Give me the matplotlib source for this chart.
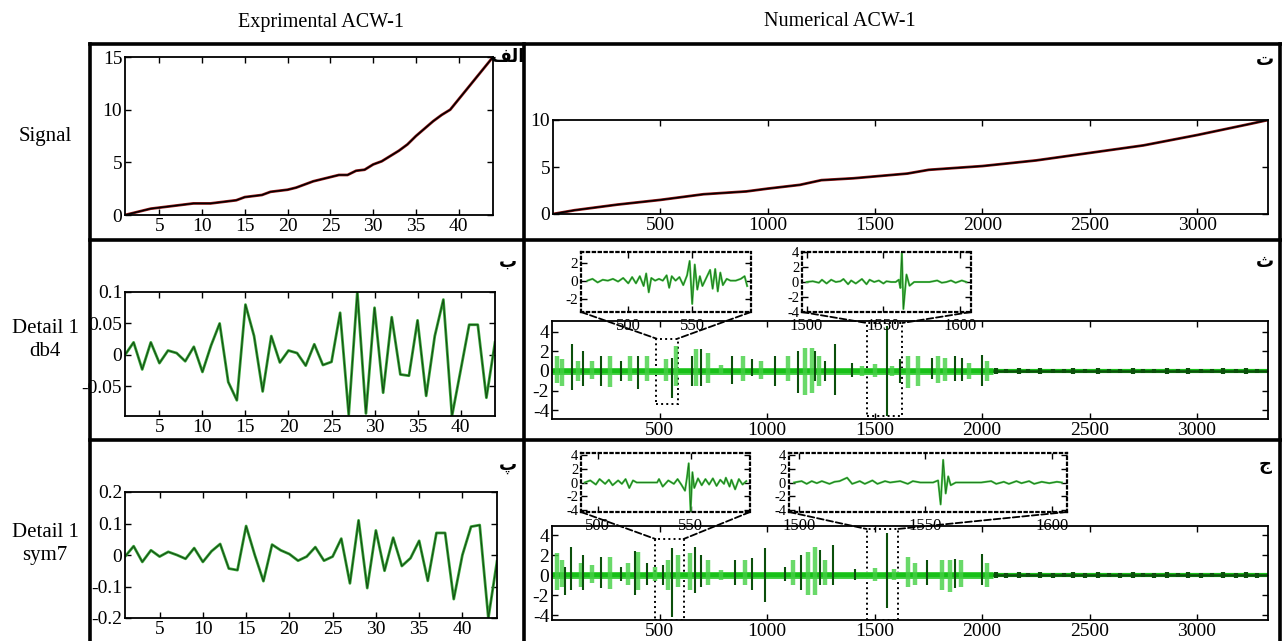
import numpy as np
import matplotlib
matplotlib.use("Agg")
import matplotlib.pyplot as plt
from matplotlib.lines import Line2D
from matplotlib.patches import Rectangle, ConnectionPatch

plt.rcParams["font.family"] = ["Liberation Serif", "DejaVu Sans"]
plt.rcParams["axes.unicode_minus"] = False

W, H = 1282, 641

# experimental (44 samples)
exp_x = np.arange(1, 45)
exp_signal = [0.0, 0.2, 0.4, 0.6, 0.7, 0.8, 0.9, 1.0, 1.1, 1.1, 1.1, 1.2, 1.3, 1.4,
              1.7, 1.8, 1.9, 2.2, 2.3, 2.4, 2.6, 2.9, 3.2, 3.4, 3.6, 3.8, 3.8, 4.2,
              4.3, 4.8, 5.1, 5.6, 6.1, 6.7, 7.5, 8.2, 8.9, 9.5, 10.0, 11.0, 12.0,
              13.0, 14.0, 15.0]
exp_db4 = [0.0, 0.02, -0.023, 0.02, -0.013, 0.007, 0.003, -0.01, 0.013, -0.027,
           0.015, 0.05, -0.043, -0.072, 0.08, 0.03, -0.058, 0.03, -0.012, 0.007,
           0.003, -0.017, 0.017, -0.016, -0.011, 0.067, -0.095, 0.1, -0.093, 0.075,
           -0.06, 0.06, -0.031, -0.033, 0.055, -0.065, 0.03, 0.088, -0.097, -0.025,
           0.048, 0.048, -0.068, 0.02]
exp_sym7 = [-0.005, 0.028, -0.022, 0.015, -0.005, 0.01, 0.0, -0.012, 0.022, -0.022,
            0.012, 0.035, -0.043, -0.048, 0.092, 0.0, -0.083, 0.033, 0.015, 0.003,
            -0.018, -0.005, 0.025, -0.018, -0.005, 0.052, -0.09, 0.11, -0.105, 0.078,
            -0.05, 0.055, -0.035, -0.01, 0.045, -0.082, 0.07, 0.07, -0.14, 0.0,
            0.09, 0.095, -0.2, -0.02]

# numerical signal
num_x = [0, 100, 200, 300, 500, 700, 900, 1000, 1150, 1250, 1400, 1500, 1650, 1750,
         2000, 2250, 2500, 2750, 3000, 3250, 3330]
num_y = [0.0, 0.4, 0.7, 1.0, 1.5, 2.1, 2.4, 2.7, 3.1, 3.6, 3.8, 4.0, 4.3, 4.7,
         5.1, 5.7, 6.5, 7.3, 8.4, 9.6, 10.0]

# detail bursts: (position, top, bottom)
db4_dark = [(91, 2.8, -1.9), (145, 2.0, -1.5), (230, 1.5, -1.5), (323, 1.0, -1.0),
            (401, 1.5, -1.8), (556, 1.3, -2.8), (649, 1.5, -1.5), (695, 2.2, -1.5),
            (835, 1.5, -1.3), (928, 1.2, -0.5), (1036, 1.5, -1.5), (1145, 2.0, -2.2),
            (1222, 2.0, -1.0), (1269, 1.0, -1.0), (1315, 2.8, -2.5), (1393, 0.8, -0.6),
            (1556, 4.6, -4.6), (1618, 1.2, -1.2), (1765, 1.3, -0.8), (1874, 1.5, -1.0),
            (1905, 1.3, -1.0), (1998, 1.6, -1.5)]
db4_light = [(25, 1.5, -1.2), (45, 1.2, -1.5), (120, 1.0, -1.0), (185, 1.0, -0.8),
             (269, 1.5, -1.6), (362, 1.5, -1.0), (440, 1.5, -1.0), (532, 1.2, -1.0),
             (579, 2.5, -1.5), (672, 2.2, -1.5), (726, 1.8, -1.2), (788, 0.6, -0.4),
             (889, 1.5, -1.0), (974, 1.0, -0.8), (1098, 1.5, -1.0), (1176, 2.3, -2.5),
             (1207, 2.3, -2.2), (1240, 1.5, -1.5), (1440, 0.5, -0.5), (1501, 0.7, -0.6),
             (1580, 0.5, -0.5), (1657, 1.5, -1.7), (1703, 1.5, -1.5), (1796, 1.5, -1.2),
             (1830, 1.3, -1.0), (1940, 0.8, -0.8), (2021, 1.0, -1.0)]
sym7_dark = [(60, 0.8, -2.0), (90, 2.8, -1.5), (145, 2.0, -1.5), (230, 1.8, -1.3),
             (323, 0.8, -0.6), (385, 2.4, -2.0), (440, 1.2, -1.0), (517, 1.0, -1.0),
             (556, 2.7, -4.2), (664, 2.8, -1.8), (695, 2.0, -1.2), (850, 1.5, -1.0),
             (928, 1.7, -1.5), (990, 2.7, -2.7), (1083, 0.8, -0.6), (1160, 2.0, -1.5),
             (1246, 2.5, -1.0), (1308, 3.0, -1.0), (1408, 0.6, -0.5), (1556, 4.2, -3.3),
             (1742, 1.5, -1.0), (1874, 1.6, -1.3), (1998, 2.1, -1.0)]
sym7_light = [(25, 2.2, -1.5), (45, 1.5, -1.2), (137, 1.2, -1.2), (185, 1.0, -0.8),
              (269, 1.8, -1.4), (354, 1.2, -1.0), (401, 2.3, -1.5), (480, 0.8, -0.6),
              (540, 1.5, -1.5), (587, 2.0, -1.2), (641, 2.2, -1.5), (726, 1.5, -1.0),
              (788, 0.5, -0.5), (897, 1.5, -1.0), (1122, 1.5, -1.0), (1191, 2.3, -2.0),
              (1222, 2.8, -2.0), (1270, 1.5, -1.0), (1501, 0.7, -0.6), (1590, 0.6, -0.5),
              (1657, 1.8, -1.2), (1690, 1.2, -1.0), (1812, 1.5, -1.5), (1850, 1.5, -1.7),
              (1900, 1.5, -1.2), (2021, 1.2, -1.2)]
tail_x = [2065, 2110, 2170, 2215, 2270, 2330, 2380, 2425, 2480, 2540, 2590, 2640,
          2700, 2750, 2800, 2860, 2910, 2960, 3020, 3070, 3120, 3180, 3230, 3280]
tail_amp = [0.3, 0.25, 0.3, 0.2, 0.3, 0.25, 0.2, 0.3, 0.25, 0.3, 0.2, 0.25,
            0.3, 0.2, 0.25, 0.3, 0.2, 0.3, 0.25, 0.2, 0.3, 0.25, 0.3, 0.25]
active_end = 2050

# zoomed insets
db4_zoom1_x = [468, 472, 476, 480, 484, 488, 492, 496, 500, 503, 506, 509, 512, 514, 516,
               518, 521, 524, 527, 530, 532, 534, 537, 540, 543, 546, 548, 550, 552, 554,
               556, 558, 561, 564, 566, 568, 570, 572, 574, 577, 580, 584, 588, 591, 593]
db4_zoom1_y = [0, 0.2, -0.2, 0.1, 0, 0.2, -0.1, 0.3, -0.3, 0.4, -0.3, 0.5, -0.6, 0.8, -1.3,
               0.3, 0, 0.2, 0, 0.6, -0.8, 0.5, 0, 0.4, -0.5, 0.6, 2.2, -2.6, 1.8, -1.0,
               0.5, -0.6, 0.3, 1.2, -0.9, 1.3, -1.2, 0.9, -0.5, 0.2, 0, 0, 0.2, 0.5, -0.6]
db4_zoom2_x = [1500, 1504, 1508, 1510, 1513, 1516, 1519, 1522, 1524, 1527, 1529, 1532, 1536,
               1539, 1541, 1544, 1547, 1550, 1552, 1555, 1558, 1560, 1561, 1562, 1563, 1565,
               1567, 1570, 1575, 1580, 1585, 1588, 1591, 1594, 1597, 1601, 1604]
db4_zoom2_y = [0, 0.1, -0.1, 0.3, -0.2, 0.3, 0, 0.1, 0.4, -0.3, 0.2, -0.2, 0.4,
               -0.3, 0.3, 0, 0.2, -0.2, 0.1, 0, 0, 0.3, -0.8, 4.0, -3.6, 1.0,
               -0.5, 0, 0, 0, 0.2, -0.1, 0, 0.2, -0.1, 0.2, 0]
sym7_zoom1_x = [493, 496, 499, 501, 504, 506, 508, 511, 513, 515, 517, 519, 521, 524, 528,
                532, 533, 535, 538, 541, 543, 545, 547, 548, 549, 550, 551, 552, 554, 556,
                558, 560, 562, 564, 566, 568, 569, 571, 572, 574, 576, 578, 580]
sym7_zoom1_y = [0, 0.3, -0.3, 0.5, -0.2, 0.4, -0.4, 0.3, -0.2, 0.5, -0.8, 0.3, 0, 0, 0,
                0, 0.5, -0.6, 0.3, -0.2, 0.5, -0.3, -1.2, 0.6, 2.8, -4.2, 1.5, -0.8, 0.6, -0.4,
                0.5, -0.3, 0.6, -0.5, 0.4, -0.2, 0.7, -0.6, 0.4, -1.0, 0.5, -0.3, 0.2]
sym7_zoom2_x = [1498, 1501, 1503, 1505, 1507, 1509, 1512, 1514, 1516, 1519, 1521, 1524, 1526,
                1529, 1531, 1534, 1536, 1540, 1543, 1545, 1548, 1550, 1553, 1555, 1556, 1557,
                1558, 1559, 1560, 1562, 1566, 1572, 1576, 1578, 1581, 1583, 1586, 1588, 1591,
                1593, 1596, 1599, 1602, 1604]
sym7_zoom2_y = [0, 0.2, -0.2, 0.2, -0.1, 0.2, -0.2, 0.1, 0.2, 0.7, -0.2, 0.2, -0.2,
                0.3, -0.2, 0.2, 0, 0.2, -0.2, 0.2, 0, 0, 0, 0.3, -3.2, 3.3,
                -1.6, 0.9, -0.4, 0, 0, 0, 0.2, -0.2, 0.1, -0.2, 0.2, -0.1, 0.2,
                -0.2, 0.1, -0.1, 0.1, 0]

DARK = "#0b4f0b"
LIGHT = "#44d044"
BRIGHT = "#18c018"


def px_axes(fig, l, t, r, b):
    return fig.add_axes([l / W, 1 - b / H, (r - l) / W, (b - t) / H])


def matlab_style(ax, size, dotted=False, xsize=None):
    ax.tick_params(direction="in", top=True, right=True, length=4, width=1,
                   labelsize=size, pad=2)
    if xsize is not None:
        ax.tick_params(axis="x", labelsize=xsize, pad=4)
    for s in ax.spines.values():
        s.set_linewidth(1.6 if dotted else 1.3)
        if dotted:
            s.set_linestyle(":")


def fig_line(fig, x0, y0, x1, y1):
    fig.add_artist(Line2D([x0 / W, x1 / W], [1 - y0 / H, 1 - y1 / H],
                          transform=fig.transFigure, color="black", lw=2.6))


def draw_detail(ax, dark, light):
    ax.hlines(0, 0, active_end, color=LIGHT, lw=5)
    ax.axhline(0, color=BRIGHT, lw=3)
    ax.vlines([e[0] for e in light], [e[2] for e in light], [e[1] for e in light],
              color=LIGHT, lw=3.2, alpha=0.8)
    ax.vlines([e[0] for e in dark], [e[2] for e in dark], [e[1] for e in dark],
              color=DARK, lw=1.5)
    ax.hlines(0, active_end, 3330, color=DARK, lw=1.8)
    ax.vlines(tail_x, [-a for a in tail_amp], tail_amp, color=DARK, lw=3)


def draw_inset(ax, xs, ys):
    ax.plot(xs, ys, color="#4cc84c", lw=1.5)
    ax.plot(xs, ys, color="#1d6e1d", lw=0.6)


def connect(fig, inset, main, corner, target):
    con = ConnectionPatch(xyA=corner, coordsA=inset.transAxes, xyB=target,
                          coordsB=main.transData, ls="--", lw=1.3, color="black")
    fig.add_artist(con)


fig = plt.figure(figsize=(W / 100, H / 100), dpi=100)

# table grid
fig_line(fig, 90, 44, 1282, 44)
fig_line(fig, 90, 240, 1282, 240)
fig_line(fig, 90, 440, 1282, 440)
fig_line(fig, 90, 44, 90, 641)
fig_line(fig, 524, 44, 524, 641)
fig_line(fig, 1280, 44, 1280, 641)

fig.text(321 / W, 1 - 22 / H, "Exprimental ACW-1", ha="center", va="center", fontsize=14.5)
fig.text(840 / W, 1 - 22 / H, "Numerical ACW-1", ha="center", va="center", fontsize=14.5)
fig.text(45 / W, 1 - 137 / H, "Signal", ha="center", va="center", fontsize=15)
fig.text(45 / W, 1 - 340 / H, "Detail 1\ndb4", ha="center", va="center", fontsize=15,
         linespacing=1.25)
fig.text(45 / W, 1 - 544 / H, "Detail 1\nsym7", ha="center", va="center", fontsize=15,
         linespacing=1.25)

panel_tags = [(508, 57, "\uFED2\uFEDF\uFE8D"), (508, 262, "\u0628"), (508, 465, "\u067E"),
              (1265, 60, "\u062A"), (1265, 262, "\u062B"), (1265, 465, "\u062C")]
for px, py, tag in panel_tags:
    fig.text(px / W, 1 - py / H, tag, ha="center", va="center", fontsize=13,
             fontweight="bold", family="DejaVu Sans")

# experimental column
a1 = px_axes(fig, 125, 57, 493, 215)
a1.plot(exp_x, exp_signal, color="#9b1c1c", lw=2.0)
a1.plot(exp_x, exp_signal, color="black", lw=1.1)
a1.set_xlim(1, 44)
a1.set_ylim(0, 15)
a1.set_xticks([5, 10, 15, 20, 25, 30, 35, 40])
a1.set_yticks([0, 5, 10, 15])
matlab_style(a1, 14)

a2 = px_axes(fig, 125, 292, 495, 416)
a2.plot(exp_x, exp_db4, color="#3aa83a", lw=2.0)
a2.plot(exp_x, exp_db4, color="#144d14", lw=0.8)
a2.set_xlim(1, 44)
a2.set_ylim(-0.097, 0.1)
a2.set_xticks([5, 10, 15, 20, 25, 30, 35, 40])
a2.set_yticks([0.1, 0.05, 0, -0.05])
a2.set_yticklabels(["0.1", "0.05", "0", "-0.05"])
matlab_style(a2, 14)

a3 = px_axes(fig, 125, 492, 497, 618)
a3.plot(exp_x, exp_sym7, color="#3aa83a", lw=2.0)
a3.plot(exp_x, exp_sym7, color="#144d14", lw=0.8)
a3.set_xlim(1, 44)
a3.set_ylim(-0.2, 0.2)
a3.set_xticks([5, 10, 15, 20, 25, 30, 35, 40])
a3.set_yticks([0.2, 0.1, 0, -0.1, -0.2])
a3.set_yticklabels(["0.2", "0.1", "0", "-0.1", "-0.2"])
matlab_style(a3, 14)

# numerical column
num_ticks = [500, 1000, 1500, 2000, 2500, 3000]
b1 = px_axes(fig, 553, 120, 1268, 214)
b1.plot(num_x, num_y, color="#9b1c1c", lw=2.0)
b1.plot(num_x, num_y, color="black", lw=1.1)
b1.set_xlim(0, 3330)
b1.set_ylim(0, 10)
b1.set_xticks(num_ticks)
b1.set_yticks([0, 5, 10])
matlab_style(b1, 14)

b2 = px_axes(fig, 552, 321, 1268, 419)
draw_detail(b2, db4_dark, db4_light)
b2.set_xlim(0, 3330)
b2.set_ylim(-4.9, 5.1)
b2.set_xticks(num_ticks)
b2.set_yticks([-4, -2, 0, 2, 4])
matlab_style(b2, 14)
b2.add_patch(Rectangle((486, -3.4), 98, 6.7, fill=False, ls=":", lw=1.4, ec="black"))
b2.add_patch(Rectangle((1463, -4.6), 167, 9.5, fill=False, ls=":", lw=1.4, ec="black"))

b3 = px_axes(fig, 552, 526, 1268, 620)
draw_detail(b3, sym7_dark, sym7_light)
b3.set_xlim(0, 3330)
b3.set_ylim(-4.5, 4.9)
b3.set_xticks(num_ticks)
b3.set_yticks([-4, -2, 0, 2, 4])
matlab_style(b3, 14)
b3.add_patch(Rectangle((481, -4.5), 131, 8.1, fill=False, ls=":", lw=1.4, ec="black"))
b3.add_patch(Rectangle((1463, -4.5), 144, 9.1, fill=False, ls=":", lw=1.4, ec="black"))

# insets
i21 = px_axes(fig, 581, 252, 751, 312)
draw_inset(i21, db4_zoom1_x, db4_zoom1_y)
i21.set_xlim(463, 596)
i21.set_ylim(-3.5, 3.2)
i21.set_xticks([500, 550])
i21.set_yticks([-2, 0, 2])
matlab_style(i21, 11, dotted=True, xsize=12)
connect(fig, i21, b2, (0, 0), (486, 3.3))
connect(fig, i21, b2, (1, 0), (584, 3.3))

i22 = px_axes(fig, 802, 252, 971, 312)
draw_inset(i22, db4_zoom2_x, db4_zoom2_y)
i22.set_xlim(1497, 1607)
i22.set_ylim(-4, 4)
i22.set_xticks([1500, 1550, 1600])
i22.set_yticks([-4, -2, 0, 2, 4])
matlab_style(i22, 10.5, dotted=True, xsize=12)
connect(fig, i22, b2, (0, 0), (1463, 4.9))
connect(fig, i22, b2, (1, 0), (1630, 4.9))

i31 = px_axes(fig, 581, 453, 750, 512)
draw_inset(i31, sym7_zoom1_x, sym7_zoom1_y)
i31.set_xlim(491, 582)
i31.set_ylim(-4.3, 4.3)
i31.set_xticks([500, 550])
i31.set_yticks([-4, -2, 0, 2, 4])
matlab_style(i31, 10.5, dotted=True, xsize=12)
connect(fig, i31, b3, (0, 0), (481, 3.6))
connect(fig, i31, b3, (1, 0), (612, 3.6))

i32 = px_axes(fig, 789, 453, 1067, 512)
draw_inset(i32, sym7_zoom2_x, sym7_zoom2_y)
i32.set_xlim(1496, 1606)
i32.set_ylim(-4.3, 4.3)
i32.set_xticks([1500, 1550, 1600])
i32.set_yticks([-4, -2, 0, 2, 4])
matlab_style(i32, 10.5, dotted=True, xsize=12)
connect(fig, i32, b3, (0, 0), (1463, 4.6))
connect(fig, i32, b3, (1, 0), (1607, 4.6))

fig.savefig("out.png", dpi=100)
